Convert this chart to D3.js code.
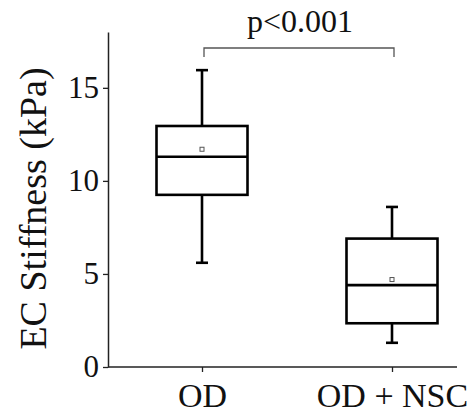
<!DOCTYPE html>
<html>
<head>
<meta charset="utf-8">
<script src="https://cdn.jsdelivr.net/npm/d3@7"></script>
<style>
  body { margin: 0; background: #fff; }
  text { font-family: "Liberation Serif", "DejaVu Serif", serif; fill: #111; }
</style>
</head>
<body>
<script>
// data
let categories = ["OD", "OD + NSC"];
let whiskerLow = [5.6, 1.3];
let q1 = [9.25, 2.35];
let median = [11.3, 4.4];
let q3 = [12.95, 6.9];
let whiskerHigh = [15.95, 8.6];
let means = [11.7, 4.7];
let yTicks = [0, 5, 10, 15];
let pLabel = "p<0.001";

let width = 468, height = 417;
let margin = { top: 32, left: 108, bottom: 50, right: 11 };
let plotBottom = height - margin.bottom;
let plotRight = width - margin.right;

let svg = d3.select("body").append("svg")
  .attr("width", width)
  .attr("height", height);

let y = d3.scaleLinear().domain([0, 18]).range([plotBottom, margin.top]);
let x = d3.scalePoint().domain(categories).range([margin.left + 94, plotRight - 65]);

// y axis
let yAxis = svg.append("g")
  .attr("transform", "translate(" + margin.left + ",0)")
  .call(d3.axisLeft(y).tickValues(yTicks).tickSize(5).tickSizeOuter(0).tickPadding(4));
yAxis.select(".domain").attr("stroke", "#222").attr("stroke-width", 1.5);
yAxis.selectAll(".tick line").attr("stroke", "#222").attr("stroke-width", 1.3);
yAxis.selectAll(".tick text")
  .style("font-family", "'Liberation Serif', serif")
  .style("font-size", "31px").attr("fill", "#111");

// x axis
let xAxis = svg.append("g")
  .attr("transform", "translate(0," + plotBottom + ")")
  .call(d3.axisBottom(x).tickSize(5).tickSizeOuter(0).tickPadding(11));
xAxis.select(".domain").remove();
xAxis.append("line")
  .attr("x1", margin.left).attr("x2", plotRight)
  .attr("stroke", "#222").attr("stroke-width", 1.5);
xAxis.selectAll(".tick line").attr("stroke", "#222").attr("stroke-width", 1.3);
xAxis.selectAll(".tick text")
  .style("font-family", "'Liberation Serif', serif")
  .style("font-size", "34px").attr("fill", "#111");

// y axis label
svg.append("text")
  .attr("transform", "translate(46," + ((margin.top + plotBottom) / 2 + 9) + ") rotate(-90)")
  .attr("text-anchor", "middle")
  .style("font-size", "38px")
  .text("EC Stiffness (kPa)");

// boxes
let boxW = 91, capW = 12;
let boxes = svg.selectAll(".box")
  .data(categories)
  .enter().append("g")
  .attr("class", "box");

boxes.append("line")
  .attr("x1", d => x(d)).attr("x2", d => x(d))
  .attr("y1", (d, i) => y(whiskerHigh[i])).attr("y2", (d, i) => y(q3[i]));
boxes.append("line")
  .attr("x1", d => x(d)).attr("x2", d => x(d))
  .attr("y1", (d, i) => y(q1[i])).attr("y2", (d, i) => y(whiskerLow[i]));
boxes.append("line")
  .attr("x1", d => x(d) - capW / 2).attr("x2", d => x(d) + capW / 2)
  .attr("y1", (d, i) => y(whiskerHigh[i])).attr("y2", (d, i) => y(whiskerHigh[i]));
boxes.append("line")
  .attr("x1", d => x(d) - capW / 2).attr("x2", d => x(d) + capW / 2)
  .attr("y1", (d, i) => y(whiskerLow[i])).attr("y2", (d, i) => y(whiskerLow[i]));
boxes.append("rect")
  .attr("x", d => x(d) - boxW / 2)
  .attr("width", boxW)
  .attr("y", (d, i) => y(q3[i]))
  .attr("height", (d, i) => y(q1[i]) - y(q3[i]))
  .attr("fill", "none");
boxes.append("line")
  .attr("x1", d => x(d) - boxW / 2).attr("x2", d => x(d) + boxW / 2)
  .attr("y1", (d, i) => y(median[i])).attr("y2", (d, i) => y(median[i]));
boxes.selectAll("line, rect")
  .attr("stroke", "#000").attr("stroke-width", 2.6);

// mean markers
boxes.append("rect")
  .attr("x", d => x(d) - 2)
  .attr("y", (d, i) => y(means[i]) - 2)
  .attr("width", 4).attr("height", 4)
  .attr("fill", "#fff").attr("stroke", "#555").attr("stroke-width", 1);

// significance bracket
let bracketY = 48, drop = 9;
svg.append("path")
  .attr("d", "M" + (x(categories[0]) + 2) + "," + (bracketY + drop) +
    "V" + bracketY + "H" + (x(categories[1]) + 2) + "V" + (bracketY + drop))
  .attr("fill", "none").attr("stroke", "#555").attr("stroke-width", 1.3);
svg.append("text")
  .attr("x", (x(categories[0]) + x(categories[1])) / 2 + 3)
  .attr("y", 32)
  .attr("text-anchor", "middle")
  .style("font-size", "32px")
  .text(pLabel);
</script>
</body>
</html>
